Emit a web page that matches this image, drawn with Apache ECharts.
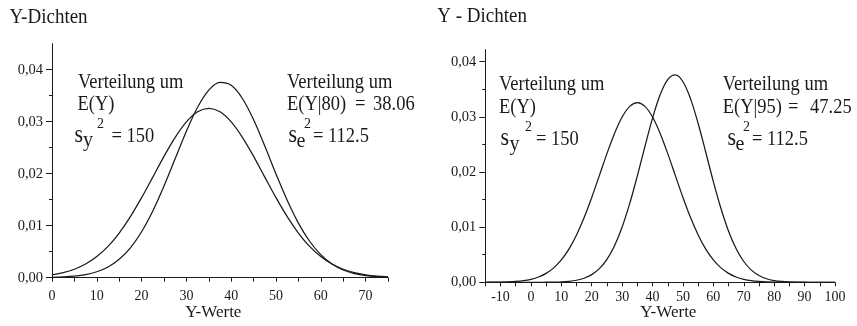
<!DOCTYPE html>
<html>
<head>
<meta charset="utf-8">
<script src="https://cdn.jsdelivr.net/npm/echarts@6/dist/echarts.min.js"></script>
<style>
  html, body { margin: 0; padding: 0; background: #fff; }
  #chart { width: 857px; height: 326px; }
</style>
</head>
<body>
<div id="chart"></div>
<script>
// Left panel: densities of Y (mean 35, variance 150) and Y|80 (mean 38.06, variance 112.5)
const xLeft = [0, 2.5, 5, 7.5, 10, 12.5, 15, 17.5, 20, 22.5, 25, 27.5, 30, 32.5, 35, 37.5,
  40, 42.5, 45, 47.5, 50, 52.5, 55, 57.5, 60, 62.5, 65, 67.5, 70, 72.5, 75];
const densLeftEY = [0.00055, 0.00096, 0.00162, 0.00262, 0.00406, 0.00602, 0.00859, 0.01174,
  0.01539, 0.01935, 0.02334, 0.02700, 0.02997, 0.03190, 0.03257, 0.03190, 0.02997, 0.02700,
  0.02334, 0.01935, 0.01539, 0.01174, 0.00859, 0.00602, 0.00406, 0.00262, 0.00162, 0.00096,
  0.00055, 0.00030, 0.00016];
const densLeftEY80 = [0.00006, 0.00014, 0.00029, 0.00059, 0.00114, 0.00206, 0.00354, 0.00575,
  0.00883, 0.01282, 0.01762, 0.02291, 0.02818, 0.03278, 0.03608, 0.03756, 0.03699, 0.03446,
  0.03036, 0.02531, 0.01996, 0.01489, 0.01050, 0.00701, 0.00443, 0.00264, 0.00149, 0.00080,
  0.00040, 0.00019, 0.00009];

// Right panel: densities of Y (mean 35, variance 150) and Y|95 (mean 47.25, variance 112.5)
const xRight = [-15, -12.5, -10, -7.5, -5, -2.5, 0, 2.5, 5, 7.5, 10, 12.5, 15, 17.5, 20, 22.5,
  25, 27.5, 30, 32.5, 35, 37.5, 40, 42.5, 45, 47.5, 50, 52.5, 55, 57.5, 60, 62.5, 65, 67.5,
  70, 72.5, 75, 77.5, 80, 82.5, 85, 87.5, 90, 92.5, 95, 97.5, 100];
const densRightEY = [0.0000078, 0.0000177, 0.000038, 0.000079, 0.00016, 0.00030, 0.00055,
  0.00096, 0.00162, 0.00262, 0.00406, 0.00602, 0.00859, 0.01174, 0.01539, 0.01935, 0.02334,
  0.02700, 0.02997, 0.03190, 0.03257, 0.03190, 0.02997, 0.02700, 0.02334, 0.01935, 0.01539,
  0.01174, 0.00859, 0.00602, 0.00406, 0.00262, 0.00162, 0.00096, 0.00055, 0.00030, 0.00016,
  0.000079, 0.000038, 0.0000177, 0.0000078, 0.000003, 0.000001, 0, 0, 0, 0];
const densRightEY95 = [0, 0, 0, 0, 0, 0.0000006, 0.0000018, 0.0000051, 0.0000135, 0.0000335,
  0.000079, 0.000176, 0.00037, 0.00074, 0.00139, 0.00247, 0.00417, 0.00664, 0.01002, 0.01430,
  0.01931, 0.02465, 0.02978, 0.03402, 0.03677, 0.03760, 0.03637, 0.03327, 0.02880, 0.02358,
  0.01826, 0.01338, 0.00927, 0.00608, 0.00377, 0.00221, 0.00123, 0.00064, 0.00032, 0.00015,
  0.000067, 0.000028, 0.000011, 0.0000042, 0.0000015, 0.0000005, 0];

// Tick labels
const yTicks = [0, 0.01, 0.02, 0.03, 0.04];
const xTicksLeft = [0, 10, 20, 30, 40, 50, 60, 70];
const xTicksRight = [-10, 0, 10, 20, 30, 40, 50, 60, 70, 80, 90, 100];

const FONT = '"Liberation Serif", "Times New Roman", serif';
const INK = '#1a1a1a';

const pairs = (xs, ys) => xs.map((x, i) => [x, ys[i]]);

function xAxisCfg(gridIndex, min, max, labels, margin) {
  return {
    type: 'value', gridIndex, min, max, interval: 5,
    axisLine: { show: true, onZero: false, lineStyle: { color: INK, width: 1 } },
    axisTick: { show: true, length: 4, inside: false, lineStyle: { color: INK } },
    axisLabel: {
      customValues: labels, margin,
      fontFamily: FONT, fontSize: 14, color: INK
    },
    splitLine: { show: false }
  };
}
function yAxisCfg(gridIndex, max) {
  return {
    type: 'value', gridIndex, min: 0, max, interval: 0.01,
    axisLine: { show: true, onZero: false, lineStyle: { color: INK, width: 1 } },
    axisTick: { show: true, length: 6, customValues: yTicks, lineStyle: { color: INK } },
    minorTick: { show: true, splitNumber: 2, length: 3, lineStyle: { color: INK } },
    axisLabel: {
      customValues: yTicks, margin: 9,
      fontFamily: FONT, fontSize: 14.5, color: INK,
      formatter: v => v.toFixed(2).replace('.', ',')
    },
    splitLine: { show: false }
  };
}
function curve(xi, yi, data) {
  return {
    type: 'line', xAxisIndex: xi, yAxisIndex: yi, data,
    smooth: 0.35, showSymbol: false, silent: true,
    lineStyle: { color: '#1a1a1a', width: 1.25 }
  };
}
// Text placed by its baseline, slightly stretched upward from the baseline
function txt(text, x, baseline, size, sy) {
  const k = sy || 1.08;
  return {
    type: 'text', x, y: baseline - 0.3 * size, silent: true,
    originX: 0, originY: 0.3 * size, scaleY: k,
    style: {
      text, fill: INK, font: size + 'px ' + FONT,
      align: 'left', verticalAlign: 'middle'
    }
  };
}
function ctxt(text, cx, cy, size) {
  return {
    type: 'text', x: cx, y: cy, silent: true,
    style: {
      text, fill: INK, font: size + 'px ' + FONT,
      align: 'center', verticalAlign: 'middle'
    }
  };
}

const TS = 18.5;
const option = {
  animation: false,
  backgroundColor: '#fff',
  grid: [
    { left: 52, right: 469, top: 43.7, bottom: 48.3, containLabel: false },
    { left: 485.3, right: 22, top: 49.6, bottom: 43.7, containLabel: false }
  ],
  xAxis: [
    xAxisCfg(0, 0, 75, xTicksLeft, 12),
    xAxisCfg(1, -15, 100, xTicksRight, 8)
  ],
  yAxis: [
    yAxisCfg(0, 0.045),
    yAxisCfg(1, 0.0422)
  ],
  series: [
    curve(0, 0, pairs(xLeft, densLeftEY)),
    curve(0, 0, pairs(xLeft, densLeftEY80)),
    curve(1, 1, pairs(xRight, densRightEY)),
    curve(1, 1, pairs(xRight, densRightEY95))
  ],
  graphic: [
    // left panel
    txt('Y-Dichten', 9.5, 24, 19),
    txt('Verteilung um', 78, 88.5, TS),
    txt('E(Y)', 77.5, 110.5, TS),
    txt('s', 74.5, 142.5, 22, 1.15),
    txt('y', 83, 147, 20, 1.1),
    txt('2', 97, 128.5, 14),
    txt('= 150', 111.5, 142.5, TS),
    txt('Verteilung um', 287, 88.5, TS),
    txt('E(Y|80)', 287, 110.5, TS),
    txt('=', 355, 110.5, TS),
    txt('38.06', 373, 110.5, TS),
    txt('s', 288.5, 142.5, 22, 1.15),
    txt('e', 296.5, 147.5, 20, 1.1),
    txt('2', 304, 128.5, 14),
    txt('= 112.5', 313, 142.5, TS),
    ctxt('Y-Werte', 213.3, 313, 17),
    // right panel
    txt('Y - Dichten', 437.3, 22.7, 19),
    txt('Verteilung um', 499, 90.7, TS),
    txt('E(Y)', 499, 113.3, TS),
    txt('s', 500.5, 146, 22, 1.15),
    txt('y', 509.5, 150.5, 20, 1.1),
    txt('2', 525, 132, 14),
    txt('= 150', 536, 146, TS),
    txt('Verteilung um', 722.7, 90.7, TS),
    txt('E(Y|95)', 722.7, 113.3, TS),
    txt('=', 788, 113.3, TS),
    txt('47.25', 810, 113.3, TS),
    txt('s', 727.5, 146, 22, 1.15),
    txt('e', 735.5, 151, 20, 1.1),
    txt('2', 743, 132, 14),
    txt('= 112.5', 752, 146, TS),
    ctxt('Y-Werte', 668.3, 313, 17)
  ]
};

const chart = echarts.init(document.getElementById('chart'), null, { renderer: 'canvas' });
chart.setOption(option);
</script>
</body>
</html>
